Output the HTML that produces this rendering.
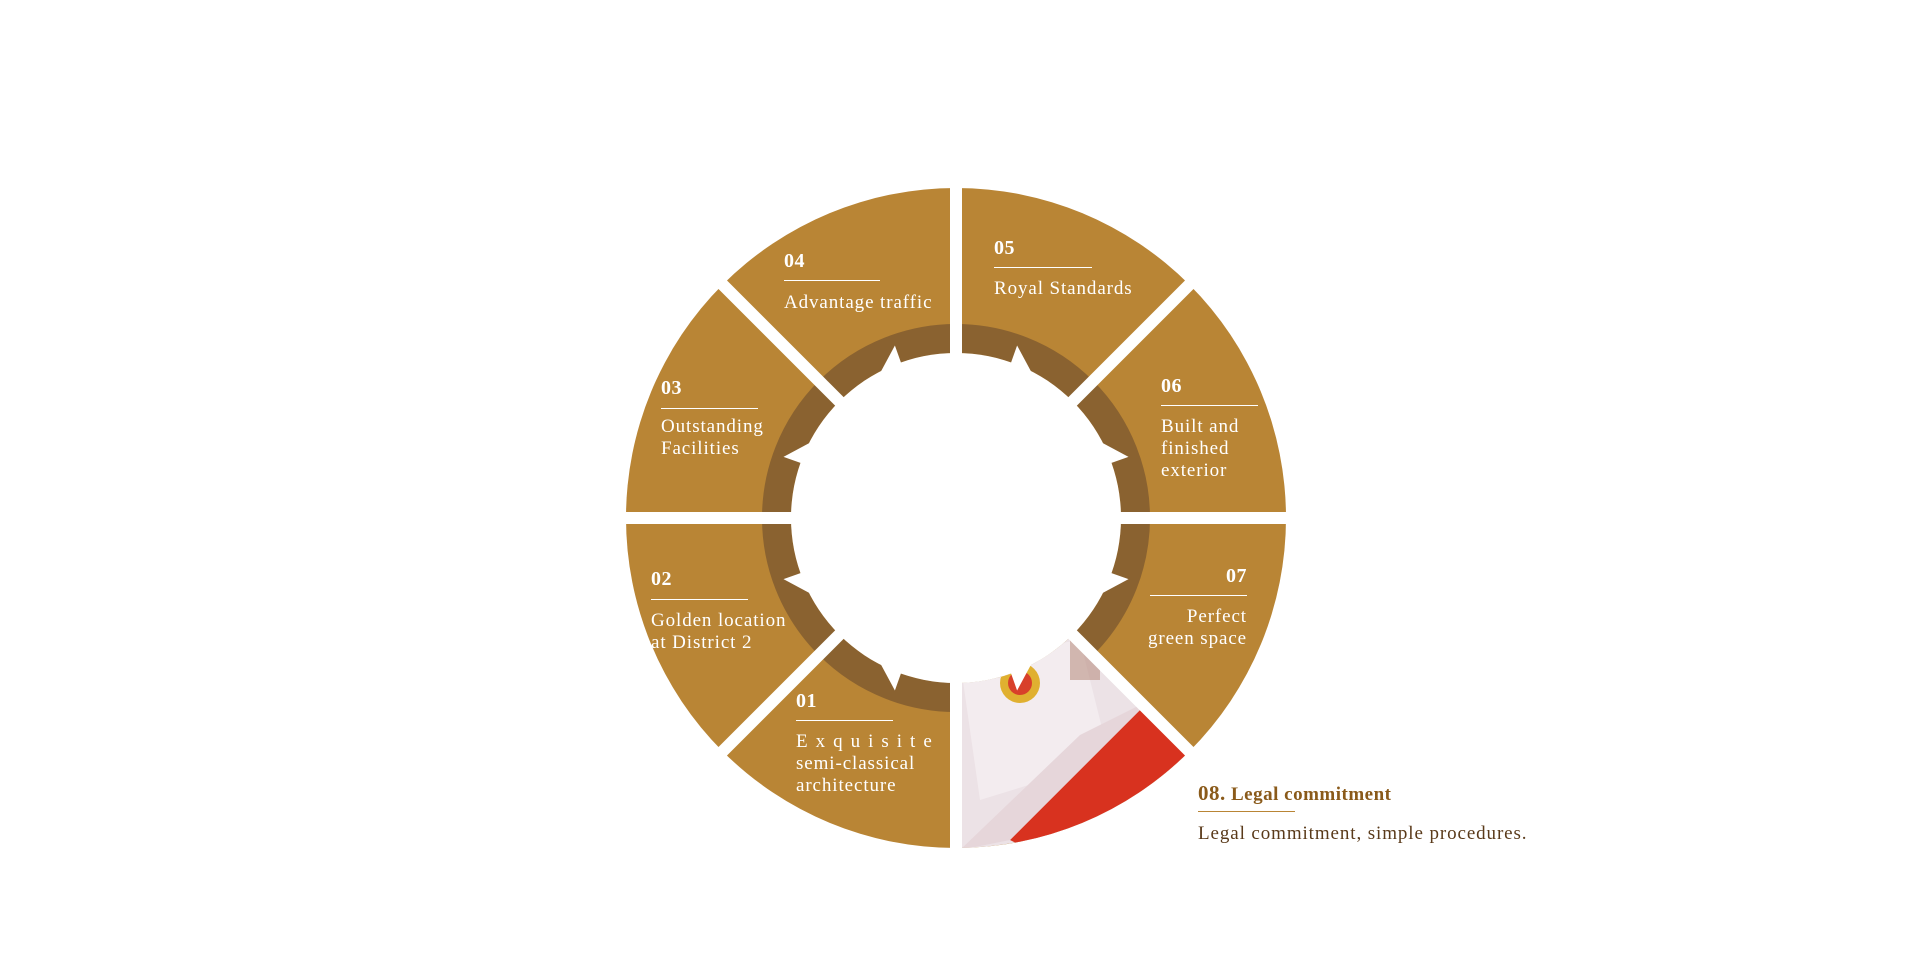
<!DOCTYPE html>
<html><head><meta charset="utf-8"><style>
html,body{margin:0;padding:0;background:#fff;width:1920px;height:980px;overflow:hidden;font-family:"Liberation Serif",serif;}
.t{position:absolute;color:#fff;font-size:19px;line-height:22px;white-space:nowrap;letter-spacing:0.9px}
.n{position:absolute;color:#fff;font-size:20px;font-weight:bold;letter-spacing:0.5px}
.l{position:absolute;height:1px;background:#fff}
</style></head><body>
<svg width="1920" height="980" style="position:absolute;left:0;top:0">
<defs>
<clipPath id="c8"><path d="M1072.7,634.7 L1189.3,751.3 A330,330 0 0 1 956,848 L956,683 A165,165 0 0 0 1072.7,634.7 Z"/></clipPath>
</defs>
<circle cx="956" cy="518" r="330" fill="#b98535"/>
<circle cx="956" cy="518" r="179.5" fill="none" stroke="#8a6230" stroke-width="29"/>
<g clip-path="url(#c8)">
<rect x="940" y="620" width="260" height="240" fill="#ece2e6"/>
<polygon points="960,660 1080,640 1110,760 980,800" fill="#f3ecef"/>
<polygon points="1150,700 1200,760 1050,860 1010,840" fill="#d8321f"/>
<polygon points="1080,735 1150,700 1010,840 960,850" fill="#e6d6da"/>
<circle cx="1020" cy="683" r="20" fill="#e0b030"/>
<circle cx="1020" cy="683" r="12" fill="#d8402a"/>
<rect x="1070" y="640" width="30" height="40" fill="#b08070" opacity="0.5"/>
</g>
<circle cx="956" cy="518" r="165" fill="#fff"/>
<g id="teeth" fill="#fff"></g>
<g stroke="#fff" stroke-width="12">
<line x1="956" y1="180" x2="956" y2="856"/>
<line x1="618" y1="518" x2="1294" y2="518"/>
<line x1="717" y1="279" x2="1195" y2="757"/>
<line x1="1195" y1="279" x2="717" y2="757"/>
</g>
</svg>
<script>
var g=document.getElementById('teeth'),s='';
function p(r,a){a=a*Math.PI/180;return (956+r*Math.cos(a)).toFixed(1)+','+(518+r*Math.sin(a)).toFixed(1);}
for(var k=0;k<8;k++){var m=22.5+45*k;var lo=45*k;var axis=(lo%90==0)?lo:lo+45;var d=(m>axis)?1:-1;var a0=m-d*3;
s+='<polygon points="'+p(183,a0)+' '+p(162,a0)+' '+p(162,a0+d*9)+'"/>';}
g.innerHTML=s;
</script>
<div class="n" style="left:784px;top:250px">04</div><div class="l" style="left:784px;top:280px;width:96px"></div>
<div class="t" style="left:784px;top:292px">Advantage traffic</div>
<div class="n" style="left:994px;top:237px">05</div><div class="l" style="left:994px;top:267px;width:98px"></div>
<div class="t" style="left:994px;top:278px">Royal Standards</div>
<div class="n" style="left:661px;top:377px">03</div><div class="l" style="left:661px;top:408px;width:97px"></div>
<div class="t" style="left:661px;top:416px">Outstanding<br>Facilities</div>
<div class="n" style="left:1161px;top:375px">06</div><div class="l" style="left:1161px;top:405px;width:97px"></div>
<div class="t" style="left:1161px;top:416px">Built and<br>finished<br>exterior</div>
<div class="n" style="left:651px;top:568px">02</div><div class="l" style="left:651px;top:599px;width:97px"></div>
<div class="t" style="left:651px;top:610px">Golden location<br>at District 2</div>
<div class="n" style="left:1150px;top:565px;width:97px;text-align:right">07</div><div class="l" style="left:1150px;top:595px;width:97px"></div>
<div class="t" style="left:1080px;top:606px;width:167px;text-align:right">Perfect<br>green space</div>
<div class="n" style="left:796px;top:690px">01</div><div class="l" style="left:796px;top:720px;width:97px"></div>
<div class="t" style="left:796px;top:731px"><span style="letter-spacing:8px">Exquisite</span><br>semi-classical<br>architecture</div>
<div style="position:absolute;left:1198px;top:781px;color:#8a5a1a;font-size:19px;letter-spacing:0.5px"><span style="font-size:21px;font-weight:bold">08.</span> <b>Legal commitment</b></div>
<div style="position:absolute;left:1198px;top:811px;width:97px;height:1px;background:#b98535"></div>
<div style="position:absolute;left:1198px;top:823px;color:#5a3a1a;font-size:19px;letter-spacing:0.9px">Legal commitment, simple procedures.</div>
</body></html>
